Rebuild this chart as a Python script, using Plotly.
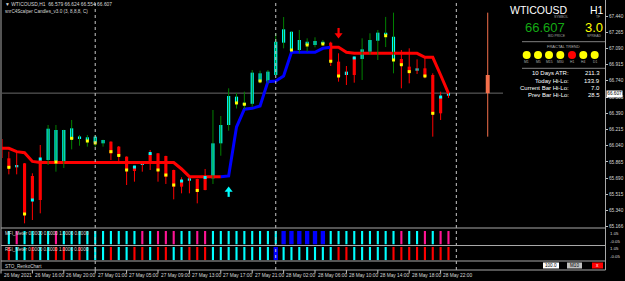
import plotly.graph_objects as go

# ======================= DATA =======================
symbol = "WTICOUSD"
timeframe = "H1"
title_line = "\u25BC WTICOUSD,H1  66.579 66.624 66.554 66.607"
indicator_line = "snrC4Scalper Candles_v3.0 (3, 8,8,8, C)"
bid_price = 66.607
spread_text = "3.0"

time_labels = ["26 May 2021", "26 May 16:00", "26 May 20:00", "27 May 01:00", "27 May 05:00",
               "27 May 09:00", "27 May 13:00", "27 May 17:00", "27 May 21:00", "28 May 02:00",
               "28 May 06:00", "28 May 10:00", "28 May 14:00", "28 May 18:00", "28 May 22:00"]
bars_per_label = 4
day_start_bars = [12, 35, 58]

candle_kind = ["d", "d", "x", "d", "d", "d", "u", "u", "u", "u", "u", "u", "u", "u",
               "d", "d", "d", "d", "x", "d", "d", "d", "d", "d", "x", "d", "d",
               "u", "u", "u", "u", "u", "u", "u", "u", "u", "u", "u", "u", "u", "u", "u",
               "d", "d", "x", "d", "u", "u", "u", "u", "u", "d", "d", "x", "d", "d", "d", "x"]
opens = [66.112, 65.903, 65.831, 65.849, 65.712, 65.885, 65.885, 65.853, 65.860, 66.109,
         66.112, 66.096, 66.074, 66.065, 66.083, 66.029, 65.921, 65.820, 65.860, 65.957,
         65.957, 65.928, 65.777, 65.669, 65.687, 65.680, 65.705, 65.687, 66.065, 66.263,
         66.495, 66.479, 66.492, 66.731, 66.731, 66.803, 67.152, 67.065, 67.073, 67.127,
         67.127, 67.138, 67.152, 66.947, 66.839, 66.994, 66.976, 67.054, 67.173, 67.235,
         66.965, 66.976, 66.893, 66.875, 66.875, 66.803, 66.569, 66.579]
highs = [66.123, 65.975, 65.964, 65.852, 65.741, 66.047, 66.263, 66.263, 66.212, 66.317,
         66.155, 66.155, 66.155, 66.104, 66.086, 66.036, 65.924, 65.823, 65.863, 65.993,
         65.960, 65.931, 65.780, 65.698, 65.690, 65.683, 65.788, 66.425, 66.360, 66.659,
         66.609, 66.623, 66.857, 66.849, 66.857, 67.253, 67.429, 67.273, 67.289, 67.199,
         67.210, 67.181, 67.162, 67.037, 66.900, 67.000, 67.199, 67.253, 67.289, 67.430,
         67.476, 67.073, 67.091, 66.972, 66.994, 66.821, 66.623, 66.624]
lows = [65.885, 65.730, 65.730, 65.201, 65.237, 65.309, 65.831, 65.759, 65.799, 66.000,
        66.039, 66.029, 66.029, 66.029, 65.885, 65.853, 65.615, 65.651, 65.759, 65.777,
        65.651, 65.626, 65.460, 65.525, 65.525, 65.417, 65.558, 65.626, 65.931, 66.201,
        66.441, 66.436, 66.461, 66.713, 66.713, 66.800, 67.091, 67.054, 67.037, 67.054,
        67.102, 67.119, 66.900, 66.731, 66.695, 66.720, 66.749, 67.019, 66.965, 67.105,
        66.821, 66.659, 66.713, 66.814, 66.767, 66.137, 66.317, 66.554]
closes = [65.907, 65.795, 65.806, 65.291, 65.464, 65.453, 66.223, 66.209, 66.209, 66.227,
          66.139, 66.130, 66.137, 66.101, 65.957, 65.928, 65.777, 65.766, 65.831, 65.867,
          65.769, 65.705, 65.597, 65.597, 65.661, 65.543, 65.561, 66.065, 66.263, 66.576,
          66.569, 66.501, 66.828, 66.821, 66.839, 67.162, 67.296, 67.270, 67.181, 67.162,
          67.170, 67.162, 66.947, 66.785, 66.803, 66.803, 67.080, 67.181, 67.260, 67.256,
          67.216, 66.911, 66.828, 66.849, 66.785, 66.379, 66.389, 66.607]

yellow_bars = [1, 3, 7, 9, 11, 12, 14, 15, 16, 20, 21, 22, 25, 30, 31, 33, 37, 39, 41, 42,
               43, 49, 50, 51, 52, 54, 55]
yellow_prices = [65.806, 65.302, 65.863, 66.119, 66.090, 66.069, 65.975, 65.934, 65.777, 65.777,
                 65.723, 65.615, 65.556, 66.501, 66.487, 66.738, 67.073, 67.127, 67.138, 66.951,
                 66.792, 67.227, 66.965, 66.914, 66.839, 66.792, 66.389]
cyan_bars = [4, 5, 17, 19, 23, 26, 45, 56]
cyan_prices = [65.453, 65.896, 65.809, 65.955, 65.658, 65.696, 66.987, 66.565]

trail = [66.011, 66.011, 65.975, 65.964, 65.870, 65.858, 65.858, 65.858, 65.858, 65.858,
         65.858, 65.858, 65.858, 65.858, 65.858, 65.858, 65.858, 65.858, 65.858, 65.858,
         65.858, 65.858, 65.858, 65.788, 65.705, 65.705, 65.705, 65.705, 65.705, 65.713,
         66.241, 66.433, 66.443, 66.468, 66.731, 66.738, 66.792, 67.048, 67.048, 67.048,
         67.048, 67.091, 67.102, 67.102, 67.048, 67.037, 67.037, 67.037, 67.037, 67.037,
         67.037, 67.037, 67.037, 67.037, 66.994, 66.994, 66.803, 66.605]
trail_up_first, trail_up_last = 29, 42

up_signal_bars = [29]
up_signal_prices = [65.582]
down_signal_bars = [43]
down_signal_prices = [67.216]

day_ohlc = [66.803, 67.476, 66.137, 66.607]

mfi_state = ["m", "c", "m", "c", "c", "c", "c", "m", "c", "c", "c", "c", "c", "c", "c", "c",
             "c", "c", "m", "c", "m", "m", "m", "c", "c", "m", "m", "c", "c", "c", "c", "c",
             "c", "c", "c", "c", "b", "b", "b", "b", "b", "b", "c", "c", "c", "c", "c", "c",
             "c", "c", "c", "m", "c", "c", "m", "c", "m", "m"]
rsi_state = ["r", "r", "c", "c", "r", "c", "c", "r", "r", "c", "r", "c", "c", "c", "r", "c",
             "c", "r", "r", "c", "r", "r", "c", "c", "r", "r", "r", "c", "c", "c", "c", "c",
             "c", "c", "c", "b", "c", "c", "c", "c", "c", "c", "c", "r", "r", "c", "c", "c",
             "c", "c", "r", "r", "r", "r", "r", "r", "r", "r"]

price_ticks = [67.440, 67.265, 67.090, 66.915, 66.740, 66.565, 66.390, 66.215, 66.040,
               65.865, 65.690, 65.515, 65.340, 65.166]
price_tick_text = ["67.440", "67.265", "67.090", "66.915", "66.740", "66.565", "66.390",
                   "66.215", "66.040", "65.865", "65.690", "65.515", "65.340", "65.166"]

fractal_tfs = ["M1", "M5", "M15", "M30", "H1", "H4", "D1"]
fractal_up = [True, True, True, True, False, True, True]
stats_labels = ["10 Days ATR:", "Today Hi-Lo:", "Current Bar Hi-Lo:", "Prev Bar Hi-Lo:"]
stats_values = ["211.3", "133.9", "7.0", "28.5"]

# ======================= STYLE / LAYOUT =======================
W, H = 625, 281
def px(x): return x / W
def py(y): return 1 - y / H

FONT = "Liberation Sans"
CYAN, RED, GREEN, YELLOW, BLUE = "#00FFFF", "#FF0000", "#008000", "#FFFF00", "#0000FF"
MAGENTA = "#FF1493"
FRAME = "#A8A8A8"
TXT = "#D8D8D8"
PLOT_L, PLOT_R = 2, 605
MAIN_BOT, MFI_BOT, RSI_BOT, STO_BOT = 228, 245.5, 261, 270
X_RANGE = [0.127, 76.94]
Y_RANGE = [65.1506, 67.6128]

def bar_paper(b):
    return px(PLOT_L) + (b - X_RANGE[0]) / (X_RANGE[1] - X_RANGE[0]) * (px(PLOT_R) - px(PLOT_L))

n = len(opens)
idx = list(range(n))
fig = go.Figure()

# trailing line (red / blue runs)
runs = []
cur = None
for i in range(n - 1):
    col = BLUE if trail_up_first <= i + 1 <= trail_up_last else RED
    if col != cur:
        runs.append([col, [i], [trail[i]]])
        cur = col
    runs[-1][1].append(i + 1)
    runs[-1][2].append(trail[i + 1])
for col, xs, ys in runs:
    fig.add_trace(go.Scatter(x=xs, y=ys, mode="lines", line=dict(color=col, width=3),
                             hoverinfo="skip"))

# wicks
for wick_col, kinds in ((GREEN, ("u",)), (RED, ("d", "x"))):
    wx, wy = [], []
    for i in idx:
        if candle_kind[i] in kinds:
            wx += [i, i, None]
            wy += [lows[i], highs[i], None]
    fig.add_trace(go.Scatter(x=wx, y=wy, mode="lines", line=dict(color=wick_col, width=1),
                             hoverinfo="skip"))

# bodies
bases = [min(o, c) for o, c in zip(opens, closes)]
heights = [max(abs(c - o), 0.024) for o, c in zip(opens, closes)]
body_cols = [RED if k == "d" else CYAN for k in candle_kind]
fig.add_trace(go.Bar(x=idx, y=heights, base=bases, width=0.4, marker=dict(color=body_cols, line_width=0),
                     hoverinfo="skip"))

# markers
fig.add_trace(go.Scatter(x=cyan_bars, y=cyan_prices, mode="markers",
                         marker=dict(symbol="square", size=3, color=CYAN, line_width=0)))
fig.add_trace(go.Scatter(x=yellow_bars, y=yellow_prices, mode="markers",
                         marker=dict(symbol="square", size=3, color=YELLOW, line_width=0)))

# daily candle (shifted area)
DAY_X = 62
DAY_COL = "#F4704C"
fig.add_trace(go.Scatter(x=[DAY_X, DAY_X], y=[day_ohlc[2], day_ohlc[1]], mode="lines",
                         line=dict(color=DAY_COL, width=1)))
fig.add_trace(go.Bar(x=[DAY_X], y=[abs(day_ohlc[0] - day_ohlc[3])], base=[min(day_ohlc[0], day_ohlc[3])],
                     width=0.5, marker=dict(color=DAY_COL, line_width=0)))

# signal arrows (stem + head)
SIG_LEN = 0.095
for bars, prices, col, sgn in ((up_signal_bars, up_signal_prices, CYAN, -1),
                               (down_signal_bars, down_signal_prices, RED, 1)):
    for b, p in zip(bars, prices):
        fig.add_trace(go.Scatter(x=[b, b], y=[p + sgn * SIG_LEN, p + sgn * 0.03], mode="lines",
                                 line=dict(color=col, width=2.2), hoverinfo="skip"))
        fig.add_trace(go.Scatter(x=[b], y=[p + sgn * 0.02], mode="markers",
                                 marker=dict(symbol="triangle-up" if sgn < 0 else "triangle-down",
                                             size=7, color=col, line_width=0), hoverinfo="skip"))

# MFI & RSI meters
def meter_cols(states, cmap):
    return [cmap[s] for s in states]
mfi_cols = meter_cols(mfi_state, {"c": CYAN, "m": MAGENTA, "b": BLUE})
rsi_cols = meter_cols(rsi_state, {"c": CYAN, "r": RED, "b": BLUE})
mfi_w = [0.55 if s == "b" else 0.27 for s in mfi_state]
rsi_w = [0.55 if s == "b" else 0.27 for s in rsi_state]
fig.add_trace(go.Bar(x=idx, y=[0.76] * n, base=0.07, width=mfi_w, marker=dict(color=mfi_cols, line_width=0),
                     xaxis="x2", yaxis="y2"))
fig.add_trace(go.Bar(x=idx, y=[0.84] * n, base=0.06, width=rsi_w, marker=dict(color=rsi_cols, line_width=0),
                     xaxis="x3", yaxis="y3"))

dom_x = [px(PLOT_L), px(PLOT_R)]
ax_common = dict(showgrid=False, zeroline=False, showline=False, range=X_RANGE, domain=dom_x, visible=False)
label_bars = [k * bars_per_label for k in range(len(time_labels))]

fig.update_layout(
    width=W, height=H, margin=dict(l=0, r=0, t=0, b=0),
    paper_bgcolor="black", plot_bgcolor="black", showlegend=False, barmode="overlay",
    font=dict(family=FONT, color=TXT),
    xaxis=dict(**ax_common, anchor="y"),
    xaxis2=dict(**ax_common, anchor="y2", matches="x"),
    xaxis3=dict(**ax_common, anchor="y3", matches="x"),
    yaxis=dict(domain=[py(MAIN_BOT), py(0)], range=Y_RANGE, side="right", showgrid=False,
               zeroline=False, showline=False, tickvals=price_ticks, ticktext=price_tick_text,
               ticks="outside", ticklen=2, tickcolor="#C0C0C0",
               tickfont=dict(size=4.7, color=TXT, family=FONT)),
    yaxis2=dict(domain=[py(MFI_BOT), py(MAIN_BOT)], range=[0, 1], visible=False),
    yaxis3=dict(domain=[py(RSI_BOT), py(MFI_BOT)], range=[0, 1], visible=False),
)

shapes = []
# day separators
for b in day_start_bars:
    shapes.append(dict(type="line", xref="paper", yref="paper", x0=bar_paper(b), x1=bar_paper(b),
                       y0=py(STO_BOT), y1=1, line=dict(color="#C8C8C8", width=1, dash="dot")))
# time ticks
for b in label_bars:
    shapes.append(dict(type="line", xref="paper", yref="paper", x0=bar_paper(b), x1=bar_paper(b),
                       y0=py(273.5), y1=py(STO_BOT), line=dict(color="#C0C0C0", width=1)))
# bid price line
shapes.append(dict(type="line", xref="paper", yref="y", x0=px(PLOT_L), x1=px(PLOT_R), y0=bid_price,
                   y1=bid_price, line=dict(color="#6A6A6A", width=1), layer="below"))
# frame
for yy in (MAIN_BOT, MFI_BOT, RSI_BOT, STO_BOT):
    shapes.append(dict(type="line", xref="paper", yref="paper", x0=px(1), x1=px(605.5),
                       y0=py(yy), y1=py(yy), line=dict(color=FRAME, width=1)))
for xx in (1, 605.5):
    shapes.append(dict(type="line", xref="paper", yref="paper", x0=px(xx), x1=px(xx),
                       y0=py(STO_BOT), y1=1, line=dict(color=FRAME, width=1)))
# info panel background
shapes.append(dict(type="rect", xref="paper", yref="paper", x0=px(503), x1=px(605), y0=py(100), y1=1,
                   fillcolor="black", line_width=0, layer="above"))
for yy in (41.7, 68.3):
    shapes.append(dict(type="line", xref="paper", yref="paper", x0=px(522), x1=px(605),
                       y0=py(yy), y1=py(yy), line=dict(color="#808080", width=1), layer="above"))
circle_x = [526.7, 538, 549, 560.3, 572, 583.3, 594.7]
for cx, up in zip(circle_x, fractal_up):
    shapes.append(dict(type="circle", xref="paper", yref="paper", x0=px(cx - 4), x1=px(cx + 4),
                       y0=py(59), y1=py(51), fillcolor=YELLOW if up else RED, line_width=0,
                       layer="above"))
# STO panel buttons
for x0, x1, fc in ((543, 559, "white"), (567, 582, "#C0C0C0"), (592, 603, RED)):
    shapes.append(dict(type="rect", xref="paper", yref="paper", x0=px(x0), x1=px(x1),
                       y0=py(268.5), y1=py(262.5), fillcolor=fc, line_width=0, layer="above"))
fig.update_layout(shapes=shapes)

ann = []
def T(x, y, text, size, color=TXT, xanchor="left", **kw):
    ann.append(dict(x=px(x), y=py(y), xref="paper", yref="paper", text=text, showarrow=False,
                    xanchor=xanchor, yanchor="middle", font=dict(size=size, color=color, family=FONT), **kw))

T(3, 4.8, title_line, 4.9)
T(3, 11.8, indicator_line, 4.6)
T(3, 233.5, "MFI_Meter 0.0000 0.0000 1.0000 0.0000", 4.6)
T(3, 249.5, "RSI_Meter 0.0000 0.0000 1.0000 0.0000", 4.6)
T(3, 266, "STO_RenkoChart", 4.6)
T(607.5, 233.3, "1.05", 4.4)
T(607.5, 241, "-0.05", 4.4)
T(607.5, 248.6, "1.05", 4.4)
T(607.5, 256.5, "-0.05", 4.4)
T(551, 265.5, "100.0", 4.6, "black", "center")
T(574.5, 265.5, "M10", 4.6, "black", "center")
T(597.5, 265.5, "x", 4.8, "white", "center")
# price tag
T(606, 93.6, "66.607", 4.7, "black", bgcolor="white", borderpad=0.3)
# info panel
T(539, 9.5, symbol, 10.5, "white", "center")
T(596.5, 9.5, timeframe, 10.5, "white", "center")
T(561, 17, "SYMBOL", 3.4, "#A0A0A0", "center")
T(598, 17, "TF", 3.4, "#A0A0A0", "center")
T(545, 27, "66.607", 13, "#14A814", "center")
T(594, 27, spread_text, 13, YELLOW, "center")
T(557, 36.5, "BID PRICE", 3.4, "#A0A0A0", "center")
T(594, 36.5, "SPREAD", 3.4, "#A0A0A0", "center")
T(563, 46.7, "FRACTAL TREND", 4, "#B0B0B0", "center")
for cx, tf in zip(circle_x, fractal_tfs):
    T(cx, 62, tf, 3.4, "#B0B0B0", "center")
for k, (lab, val) in enumerate(zip(stats_labels, stats_values)):
    T(571, 73.3 + 7.3 * k, lab, 6, "white", "right")
    T(602, 73.3 + 7.3 * k, val, 6, "white", "right")
# time labels
for b, lab in zip(label_bars, time_labels):
    ann.append(dict(x=bar_paper(b), y=py(275.5), xref="paper", yref="paper", text=lab, showarrow=False,
                    xanchor="left", yanchor="middle", xshift=0.5,
                    font=dict(size=4.8, color=TXT, family=FONT)))
fig.update_layout(annotations=ann)

fig.write_html("out.html")
